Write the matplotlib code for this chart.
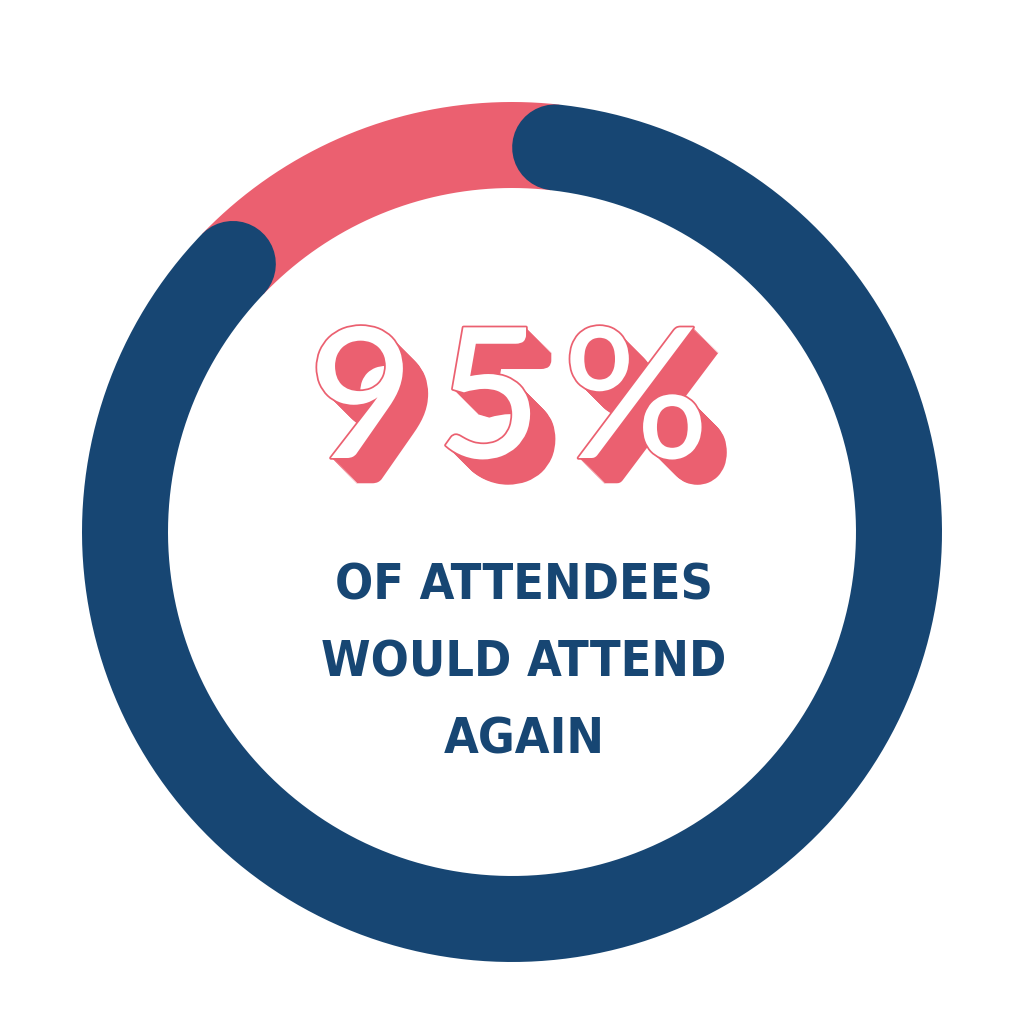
import numpy as np
import matplotlib
matplotlib.use("Agg")
import matplotlib.pyplot as plt
import matplotlib.patheffects as pe
import matplotlib.font_manager as fm

# ring data (share of circle)
ring_shares = [0.854, 0.146]
ring_colors = ["#174673", "#EB6070"]
start_angle = 6.4  # degrees clockwise from top

big_chars = ["9", "5", "%"]
big_centers = [361, 489, 636]
sub_lines = ["OF ATTENDEES", "WOULD ATTEND", "AGAIN"]

# pick an upright Lato file directly
big_font = fm.FontProperties(family="DejaVu Sans", weight="bold")
files = sorted(fm.findSystemFonts())
for want in ["Lato-Medium", "Lato-Regular", "Lato-Semibold", "Lato-Bold"]:
    hits = [f for f in files if want.lower() in f.lower().replace("\\", "/").split("/")[-1]
            and "italic" not in f.lower()]
    if hits:
        big_font = fm.FontProperties(fname=hits[0])
        break

fig = plt.figure(figsize=(10.24, 10.24), dpi=100)
ax = fig.add_axes([0, 0, 1, 1])
ax.set_xlim(0, 1024)
ax.set_ylim(1024, 0)
ax.set_aspect("equal")
ax.axis("off")

cx, cy, r = 512, 532, 387
ring_w = 86 * 72 / 100  # px -> points


def arc(t0, t1, color, cap):
    t = np.radians(np.linspace(t0, t1, 400))
    ax.plot(cx + r * np.sin(t), cy - r * np.cos(t), color=color,
            lw=ring_w, solid_capstyle=cap)


blue_end = start_angle + ring_shares[0] * 360
# pink underneath first, then blue with round caps
arc(blue_end, blue_end + ring_shares[1] * 360, ring_colors[1], "butt")
arc(start_angle, blue_end, ring_colors[0], "round")

# extruded "95%": stacked shadows down-right, white face with pink outline
depth = [pe.SimplePatchShadow(offset=(k * 0.7, -k * 0.7), shadow_rgbFace=ring_colors[1],
                              alpha=1.0, rho=1.0) for k in range(26, 0, -1)]
for ch, x in zip(big_chars, big_centers):
    ax.text(x, 458, ch, ha="center", va="baseline", fontsize=131,
            fontproperties=big_font, color="white",
            path_effects=depth + [pe.Stroke(linewidth=2.5, foreground=ring_colors[1]),
                                  pe.Normal()])

for i, line in enumerate(sub_lines):
    ax.text(524, 600 + i * 76.5, line, ha="center", va="baseline", fontsize=36,
            fontweight="bold", fontstretch="condensed", family="DejaVu Sans",
            color=ring_colors[0])

fig.savefig("out.png", dpi=100, facecolor="white")
